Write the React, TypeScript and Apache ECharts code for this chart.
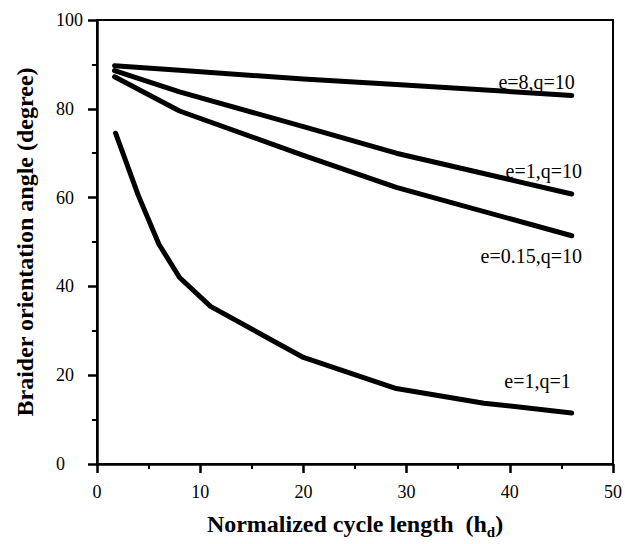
import React, { useEffect, useRef } from "react";
import * as echarts from "echarts";

const xQ10 = [1.7, 8, 20, 29, 46];
const e8q10 = [89.7, 88.7, 86.7, 85.5, 83.0];
const e1q10 = [88.6, 83.8, 76.0, 70.0, 60.8];
const e015q10 = [87.2, 79.5, 69.5, 62.3, 51.4];
const xQ1 = [1.8, 4, 6, 8, 11, 20, 29, 37.5, 46];
const e1q1 = [74.5, 60.5, 49.5, 42.0, 35.5, 24.0, 17.0, 13.7, 11.5];

const seriesNames = ["e=8,q=10", "e=1,q=10", "e=0.15,q=10", "e=1,q=1"];
const labelAnchorX = [46.3, 47, 47, 45.9];
const labelAnchorY = [86.1, 65.9, 46.9, 18.6];

const xTitle = "Normalized cycle length  (h";
const xTitleSub = "d";
const yTitle = "Braider orientation angle (degree)";

const FONT = "'Liberation Serif', 'Times New Roman', serif";

function pairs(xs: number[], ys: number[]) {
  return xs.map((x, i) => [x, ys[i]]);
}

export default function App() {
  const ref = useRef<HTMLDivElement>(null);
  useEffect(() => {
    if (!ref.current) return;
    const chart = echarts.init(ref.current, null, { renderer: "svg" });
    const lineStyle = { color: "#000", width: 5, cap: "round" as const, join: "round" as const };
    const allSeries = [
      pairs(xQ10, e8q10),
      pairs(xQ10, e1q10),
      pairs(xQ10, e015q10),
      pairs(xQ1, e1q1),
    ].map((d, i) => ({
      type: "line",
      name: seriesNames[i],
      data: d,
      symbol: "none",
      lineStyle,
      silent: true,
    }));
    const axisCommon = {
      axisLine: { show: true, lineStyle: { color: "#000", width: 2.5 } },
      axisTick: { show: true, inside: false, length: 9, lineStyle: { color: "#000", width: 2.5 } },
      minorTick: { show: true, splitNumber: 2, length: 5, lineStyle: { color: "#000", width: 2 } },
      splitLine: { show: false },
    };
    chart.setOption({
      animation: false,
      backgroundColor: "#fff",
      grid: {
        left: 97,
        right: 10,
        top: 20,
        bottom: 78,
        show: true,
        borderColor: "#000",
        borderWidth: 2,
        backgroundColor: "transparent",
      },
      xAxis: {
        type: "value",
        min: 0,
        max: 50,
        interval: 10,
        ...axisCommon,
        axisLabel: { color: "#000", fontFamily: FONT, fontSize: 18, margin: 19 },
        name: `{a|${xTitle}}{s|${xTitleSub}}{a|)}`,
        nameLocation: "middle",
        nameGap: 45,
        nameTextStyle: {
          rich: {
            a: { fontFamily: FONT, fontWeight: "bold", fontSize: 24, color: "#000", lineHeight: 30 },
            s: { fontFamily: FONT, fontWeight: "bold", fontSize: 15, color: "#000", lineHeight: 16, verticalAlign: "bottom" },
          },
        },
      },
      yAxis: {
        type: "value",
        min: 0,
        max: 100,
        interval: 20,
        ...axisCommon,
        axisLabel: { color: "#000", fontFamily: FONT, fontSize: 18, margin: 41, align: "left" },
        name: yTitle,
        nameLocation: "middle",
        nameGap: 60,
        nameTextStyle: {
          fontFamily: FONT,
          fontWeight: "bold",
          fontSize: 24,
          color: "#000",
        },
      },
      series: allSeries,
    });
    const graphics = seriesNames.map((t, i) => {
      const p = chart.convertToPixel({ gridIndex: 0 }, [labelAnchorX[i], labelAnchorY[i]]) as number[];
      return {
        type: "text",
        x: p[0],
        y: p[1],
        silent: true,
        style: {
          text: t,
          align: "right",
          verticalAlign: "middle",
          fontFamily: FONT,
          fontSize: 20,
          fill: "#000",
        },
      };
    });
    chart.setOption({ graphic: graphics });
    return () => chart.dispose();
  }, []);
  return (
    <div
      ref={ref}
      style={{ position: "fixed", left: 0, top: 0, width: 625, height: 544, background: "#fff" }}
    />
  );
}
